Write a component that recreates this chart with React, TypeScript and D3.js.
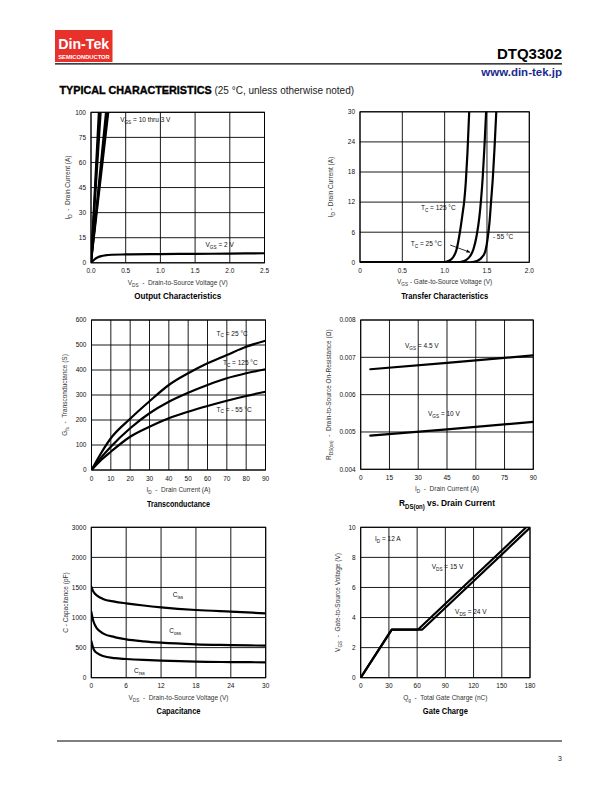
import React from "react";
import * as d3 from "d3";

type Pt = [number, number];

// ---------- Output Characteristics ----------
const outputXTicks = [0, 0.5, 1.0, 1.5, 2.0, 2.5];
const outputXTickLabels = ["0.0", "0.5", "1.0", "1.5", "2.0", "2.5"];
const outputYTicks = [0, 15, 30, 45, 60, 75, 90];
const outputYTickLabels = ["0", "15", "30", "45", "60", "75", "100"];
const outputVgs10to3: Pt[][] = [
  [[0, 0], [0.112, 90]],
  [[0, 0], [0.125, 90]],
  [[0, 0], [0.14, 90]],
  [[0, 0], [0.215, 90]],
  [[0, 0], [0.232, 90]],
  [[0, 0], [0.25, 90]],
];
const outputVgs2: Pt[] = [
  [0, 0], [0.03, 1.2], [0.06, 2.3], [0.1, 3.3], [0.15, 4.0], [0.2, 4.4], [0.3, 4.8],
  [0.5, 5.0], [1.0, 5.2], [1.5, 5.35], [2.0, 5.5], [2.5, 5.7],
];

// ---------- Transfer Characteristics ----------
const transferXTicks = [0, 0.5, 1.0, 1.5, 2.0];
const transferXTickLabels = ["0", "0.5", "1.0", "1.5", "2.0"];
const transferYTicks = [0, 6, 12, 18, 24, 30];
const transferYTickLabels = ["0", "6", "12", "18", "24", "30"];
const transfer125: Pt[] = [
  [0, 0], [0.95, 0], [1.0, 0.05], [1.05, 0.3], [1.1, 1.0], [1.14, 2.5], [1.18, 6],
  [1.21, 9.5], [1.23, 12], [1.25, 16], [1.27, 22], [1.29, 30],
];
const transfer25: Pt[] = [
  [0, 0], [1.15, 0], [1.2, 0.1], [1.25, 0.4], [1.3, 1.2], [1.34, 2.6], [1.38, 5.5],
  [1.41, 9], [1.43, 12.5], [1.45, 17], [1.47, 23], [1.49, 30],
];
const transferM55: Pt[] = [
  [0, 0], [1.3, 0], [1.35, 0.1], [1.4, 0.4], [1.44, 1.0], [1.48, 2.2], [1.51, 5],
  [1.53, 8], [1.55, 12.5], [1.57, 17], [1.59, 23], [1.61, 30],
];

// ---------- Transconductance ----------
const gfsXTicks = [0, 10, 20, 30, 40, 50, 60, 70, 80, 90];
const gfsYTicks = [0, 100, 200, 300, 400, 500, 600];
const gfs25: Pt[] = [
  [0, 0], [5, 68], [10, 127], [20, 205], [30, 275], [40, 340], [50, 387], [60, 427],
  [70, 460], [80, 493], [90, 517],
];
const gfs125: Pt[] = [
  [0, 0], [5, 50], [10, 93], [20, 167], [30, 227], [40, 273], [50, 309], [60, 340],
  [70, 367], [80, 387], [90, 403],
];
const gfsM55: Pt[] = [
  [0, 0], [5, 40], [10, 73], [20, 133], [30, 173], [40, 207], [50, 233], [60, 256],
  [70, 277], [80, 296], [90, 313],
];

// ---------- RDS(on) vs Drain Current ----------
const rdsXTicks = [0, 15, 30, 45, 60, 75, 90];
const rdsYTicks = [0.004, 0.005, 0.006, 0.007, 0.008];
const rdsYTickLabels = ["0.004", "0.005", "0.006", "0.007", "0.008"];
const rdsVgs45: Pt[] = [[5, 0.00668], [45, 0.00685], [90, 0.00705]];
const rdsVgs10: Pt[] = [[5, 0.0049], [45, 0.00507], [90, 0.00527]];

// ---------- Capacitance ----------
const capXTicks = [0, 6, 12, 18, 24, 30];
const capYTicks = [0, 500, 1000, 1500, 2000, 2500];
const capYTickLabels = ["0", "500", "1000", "1500", "2000", "3000"];
const capCiss: Pt[] = [
  [0, 1513], [0.3, 1440], [0.6, 1400], [1, 1365], [2, 1310], [4, 1265], [6, 1236],
  [9, 1200], [12, 1170], [18, 1125], [24, 1097], [30, 1070],
];
const capCoss: Pt[] = [
  [0, 1097], [0.3, 960], [0.6, 880], [1, 815], [2, 738], [4, 675], [6, 638],
  [9, 605], [12, 582], [18, 555], [24, 543], [30, 532],
];
const capCrss: Pt[] = [
  [0, 610], [0.3, 500], [0.6, 440], [1, 410], [2, 360], [4, 325], [6, 311],
  [9, 295], [12, 283], [18, 266], [24, 260], [30, 256],
];

// ---------- Gate Charge ----------
const gateXTicks = [0, 30, 60, 90, 120, 150, 180];
const gateYTicks = [0, 2, 4, 6, 8, 10];
const gateVds15: Pt[] = [[0, 0], [33, 3.2], [61, 3.2], [176, 10]];
const gateVds24: Pt[] = [[0, 0], [33, 3.2], [65.5, 3.2], [180.5, 10]];

const FONT = "'Liberation Sans', Arial, Helvetica, sans-serif";
const TITLE_FONT = "'Liberation Sans Narrow', 'Arial Narrow', 'Liberation Sans', Arial, sans-serif";

function rich(s: string, fs: number) {
  const parts = s.split(/(_\{[^}]*\})/).filter((p) => p.length > 0);
  const out: React.ReactNode[] = [];
  let shifted = false;
  const sh = fs * 0.3;
  parts.forEach((p, i) => {
    if (p.startsWith("_{")) {
      out.push(
        <tspan key={i} fontSize={fs * 0.72} dy={sh}>
          {p.slice(2, -1)}
        </tspan>
      );
      shifted = true;
    } else {
      out.push(
        <tspan key={i} dy={shifted ? -sh : 0}>
          {p}
        </tspan>
      );
      shifted = false;
    }
  });
  return out;
}

type Curve = { pts: Pt[]; w?: number; smooth?: boolean };
type Note = { x: number; y: number; text: string };

interface PanelProps {
  id: string;
  box: { l: number; t: number; r: number; b: number };
  xDomain: [number, number];
  yDomain: [number, number];
  xTicks: number[];
  xTickLabels?: string[];
  yTicks: number[];
  yTickLabels?: string[];
  curves: Curve[];
  notes: Note[];
  xLabel: string;
  yLabel: string;
  yLabelX: number;
  title: string;
  titleWidth: number;
  arrow?: { from: Pt; to: Pt };
}

function Panel(p: PanelProps) {
  const { box } = p;
  const x = d3.scaleLinear().domain(p.xDomain).range([box.l, box.r]);
  const y = d3.scaleLinear().domain(p.yDomain).range([box.b, box.t]);
  const cx = (box.l + box.r) / 2;
  const cy = (box.t + box.b) / 2;
  const fs = 6.5;
  const xl = p.xTickLabels ?? p.xTicks.map((v) => String(v));
  const yl = p.yTickLabels ?? p.yTicks.map((v) => String(v));
  return (
    <g>
      <defs>
        <clipPath id={`clip-${p.id}`}>
          <rect x={box.l} y={box.t} width={box.r - box.l} height={box.b - box.t} />
        </clipPath>
        <marker id={`arr-${p.id}`} viewBox="0 0 10 10" refX="9" refY="5" markerWidth="5" markerHeight="5" orient="auto">
          <path d="M0,1 L10,5 L0,9 z" fill="#000" />
        </marker>
      </defs>
      {p.xTicks.map((v, i) => (
        <line key={`gx${i}`} x1={x(v)} x2={x(v)} y1={box.t} y2={box.b} stroke="#000" strokeWidth={0.9} />
      ))}
      {p.yTicks.map((v, i) => (
        <line key={`gy${i}`} x1={box.l} x2={box.r} y1={y(v)} y2={y(v)} stroke="#000" strokeWidth={0.9} />
      ))}
      <rect x={box.l} y={box.t} width={box.r - box.l} height={box.b - box.t} fill="none" stroke="#000" strokeWidth={1} />
      <g clipPath={`url(#clip-${p.id})`}>
        {p.curves.map((c, i) => {
          const gen = d3
            .line<Pt>()
            .x((d) => x(d[0]))
            .y((d) => y(d[1]))
            .curve(c.smooth ? d3.curveMonotoneX : d3.curveLinear);
          return (
            <path key={i} d={gen(c.pts) ?? ""} fill="none" stroke="#000" strokeWidth={c.w ?? 2.2} strokeLinejoin="round" strokeLinecap="round" />
          );
        })}
      </g>
      {p.xTicks.map((v, i) => (
        <text key={`tx${i}`} x={x(v)} y={box.b + 10.5} fontSize={fs} textAnchor="middle" fill="#111" fontFamily={FONT}>
          {xl[i]}
        </text>
      ))}
      {p.yTicks.map((v, i) => (
        <text key={`ty${i}`} x={box.l - 5} y={y(v) + 2.3} fontSize={fs} textAnchor="end" fill="#111" fontFamily={FONT}>
          {yl[i]}
        </text>
      ))}
      {p.notes.map((n, i) => (
        <text key={`n${i}`} x={x(n.x)} y={y(n.y)} fontSize={fs} fill="#111" fontFamily={FONT} style={{ whiteSpace: "pre" }}>
          {rich(n.text, fs)}
        </text>
      ))}
      {p.arrow && (
        <line
          x1={x(p.arrow.from[0])}
          y1={y(p.arrow.from[1])}
          x2={x(p.arrow.to[0])}
          y2={y(p.arrow.to[1])}
          stroke="#000"
          strokeWidth={0.8}
          markerEnd={`url(#arr-${p.id})`}
        />
      )}
      <text x={cx} y={box.b + 22} fontSize={fs} textAnchor="middle" fill="#333" fontFamily={FONT} style={{ whiteSpace: "pre" }}>
        {rich(p.xLabel, fs)}
      </text>
      <text
        transform={`translate(${p.yLabelX},${cy}) rotate(-90)`}
        fontSize={fs}
        textAnchor="middle"
        fill="#333"
        fontFamily={FONT}
        style={{ whiteSpace: "pre" }}
      >
        {rich(p.yLabel, fs)}
      </text>
      <text
        x={cx}
        y={box.b + 36.5}
        fontSize={9.5}
        fontWeight="bold"
        textAnchor="middle"
        fill="#000"
        fontFamily={TITLE_FONT}
        textLength={p.titleWidth}
        lengthAdjust="spacingAndGlyphs"
      >
        {rich(p.title, 9.5)}
      </text>
    </g>
  );
}

export default function App() {
  return (
    <svg
      width={612}
      height={792}
      viewBox="0 0 612 792"
      style={{ position: "absolute", left: 0, top: 0, background: "#fff" }}
      fontFamily={FONT}
    >
      <rect x={0} y={0} width={612} height={792} fill="#fff" />
      {/* Header */}
      <rect x={55} y={30} width={57.5} height={32} fill="#e8312b" />
      <text x={83.75} y={48.7} fontSize={14} fontWeight="bold" fill="#fff" textAnchor="middle" fontFamily={FONT} textLength={51} lengthAdjust="spacingAndGlyphs">
        Din-Tek
      </text>
      <text x={84} y={58.6} fontSize={6} fontWeight="bold" fill="#fff" textAnchor="middle" fontFamily={FONT} textLength={51.5} lengthAdjust="spacingAndGlyphs">
        SEMICONDUCTOR
      </text>
      <line x1={55} x2={562} y1={63.8} y2={63.8} stroke="#000" strokeWidth={1.2} />
      <text x={562} y={59} fontSize={15} fontWeight="bold" textAnchor="end" fill="#000" fontFamily={FONT}>
        DTQ3302
      </text>
      <text x={562} y={75.5} fontSize={11.5} fontWeight="bold" textAnchor="end" fill="#1b2a8f" fontFamily={FONT}>
        www.din-tek.jp
      </text>
      <text x={59.5} y={93.5} fontFamily={FONT} style={{ whiteSpace: "pre" }}>
        <tspan fontSize={10.8} fontWeight="bold" fill="#000" stroke="#000" strokeWidth={0.35}>TYPICAL CHARACTERISTICS</tspan>
        <tspan fontSize={10} fill="#222"> (25 °C, unless otherwise noted)</tspan>
      </text>

      <Panel
        id="out"
        box={{ l: 91, t: 112.3, r: 264.5, b: 262.8 }}
        xDomain={[0, 2.5]}
        yDomain={[0, 90]}
        xTicks={outputXTicks}
        xTickLabels={outputXTickLabels}
        yTicks={outputYTicks}
        yTickLabels={outputYTickLabels}
        curves={[
          ...outputVgs10to3.map((pts) => ({ pts, w: 2 })),
          { pts: outputVgs2, w: 2.2, smooth: true },
        ]}
        notes={[
          { x: 0.42, y: 84, text: "V_{GS} = 10 thru 3 V" },
          { x: 1.65, y: 9.2, text: "V_{GS} = 2 V" },
        ]}
        xLabel={"V_{DS}  -  Drain-to-Source Voltage (V)"}
        yLabel={"I_{D}  -  Drain Current (A)"}
        yLabelX={70}
        title="Output Characteristics"
        titleWidth={87}
      />

      <Panel
        id="tr"
        box={{ l: 360, t: 111.8, r: 529.3, b: 262.3 }}
        xDomain={[0, 2.0]}
        yDomain={[0, 30]}
        xTicks={transferXTicks}
        xTickLabels={transferXTickLabels}
        yTicks={transferYTicks}
        yTickLabels={transferYTickLabels}
        curves={[
          { pts: transfer125, smooth: true },
          { pts: transfer25, smooth: true },
          { pts: transferM55, smooth: true },
        ]}
        notes={[
          { x: 0.72, y: 10.4, text: "T_{C} = 125 °C" },
          { x: 0.6, y: 3.15, text: "T_{C} = 25 °C" },
          { x: 1.57, y: 4.74, text: "- 55 °C" },
        ]}
        arrow={{ from: [1.065, 3.45], to: [1.3, 2.0] }}
        xLabel={"V_{GS} - Gate-to-Source Voltage (V)"}
        yLabel={"I_{D} - Drain Current (A)"}
        yLabelX={333}
        title="Transfer Characteristics"
        titleWidth={87}
      />

      <Panel
        id="gfs"
        box={{ l: 91.5, t: 320, r: 265.5, b: 470 }}
        xDomain={[0, 90]}
        yDomain={[0, 600]}
        xTicks={gfsXTicks}
        yTicks={gfsYTicks}
        curves={[
          { pts: gfs25, smooth: true },
          { pts: gfs125, smooth: true },
          { pts: gfsM55, smooth: true },
        ]}
        notes={[
          { x: 64.7, y: 538, text: "T_{C} = 25 °C" },
          { x: 68, y: 420, text: "T_{C} = 125 °C" },
          { x: 64.7, y: 234, text: "T_{C} = - 55 °C" },
        ]}
        xLabel={"I_{D}  -  Drain Current (A)"}
        yLabel={"G_{fs}  -  Transconductance (S)"}
        yLabelX={67}
        title="Transconductance"
        titleWidth={63}
      />

      <Panel
        id="rds"
        box={{ l: 360.7, t: 320, r: 533.3, b: 469.3 }}
        xDomain={[0, 90]}
        yDomain={[0.004, 0.008]}
        xTicks={rdsXTicks}
        yTicks={rdsYTicks}
        yTickLabels={rdsYTickLabels}
        curves={[
          { pts: rdsVgs45, smooth: true },
          { pts: rdsVgs10, smooth: true },
        ]}
        notes={[
          { x: 23.1, y: 0.00725, text: "V_{GS} = 4.5 V" },
          { x: 35.1, y: 0.00544, text: "V_{GS} = 10 V" },
        ]}
        xLabel={"I_{D}  -  Drain Current (A)"}
        yLabel={"R_{DS(on)}  -  Drain-to-Source On-Resistance (Ω)"}
        yLabelX={331}
        title="R_{DS(on)} vs. Drain Current"
        titleWidth={96}
      />

      <Panel
        id="cap"
        box={{ l: 91.3, t: 527.3, r: 265.7, b: 677.7 }}
        xDomain={[0, 30]}
        yDomain={[0, 2500]}
        xTicks={capXTicks}
        yTicks={capYTicks}
        yTickLabels={capYTickLabels}
        curves={[
          { pts: capCiss, smooth: true },
          { pts: capCoss, smooth: true },
          { pts: capCrss, smooth: true },
        ]}
        notes={[
          { x: 14.0, y: 1341, text: "C_{iss}" },
          { x: 13.4, y: 743, text: "C_{oss}" },
          { x: 7.35, y: 78, text: "C_{rss}" },
        ]}
        xLabel={"V_{DS}  -  Drain-to-Source Voltage (V)"}
        yLabel={"C - Capacitance (pF)"}
        yLabelX={68}
        title="Capacitance"
        titleWidth={44}
      />

      <Panel
        id="gate"
        box={{ l: 360.7, t: 527.3, r: 530, b: 677.7 }}
        xDomain={[0, 180]}
        yDomain={[0, 10]}
        xTicks={gateXTicks}
        yTicks={gateYTicks}
        curves={[
          { pts: gateVds15, w: 2.2 },
          { pts: gateVds24, w: 2.2 },
        ]}
        notes={[
          { x: 15.2, y: 9.06, text: "I_{D} = 12 A" },
          { x: 75.5, y: 7.23, text: "V_{DS} = 15 V" },
          { x: 100.3, y: 4.24, text: "V_{DS} = 24 V" },
        ]}
        xLabel={"Q_{g}  -  Total Gate Charge (nC)"}
        yLabel={"V_{GS}  -  Gate-to-Source Voltage (V)"}
        yLabelX={340}
        title="Gate Charge"
        titleWidth={45}
      />

      {/* Footer */}
      <line x1={57} x2={562} y1={741} y2={741} stroke="#000" strokeWidth={1} />
      <text x={562} y={761} fontSize={7} textAnchor="end" fill="#222" fontFamily={FONT}>
        3
      </text>
    </svg>
  );
}
